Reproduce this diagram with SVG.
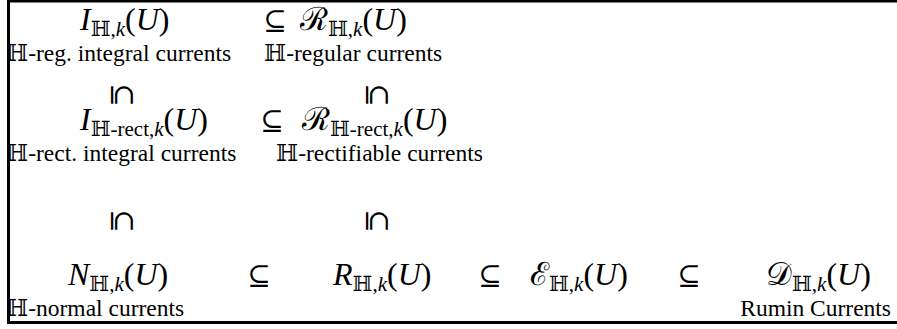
<svg xmlns="http://www.w3.org/2000/svg" width="897" height="329" viewBox="0 0 897 329">
<style>
.m{font-family:"Liberation Serif","DejaVu Serif",serif;font-style:italic;font-size:32px;fill:#000}
.up{font-style:normal}
.cal{font-family:"DejaVu Serif","Liberation Serif",serif;font-style:normal}
.sub{font-family:"Liberation Serif","DejaVu Serif",serif;font-size:21px}
.bb{font-family:"DejaVu Serif","DejaVu Sans",serif;font-style:normal;font-weight:normal}
.lab{font-family:"Liberation Serif","DejaVu Serif",serif;font-size:23.5px;fill:#000}
.rel{font-family:"DejaVu Serif",serif;font-size:28px;fill:#000}
</style>
<rect x="0" y="0" width="897" height="329" fill="#fff"/>
<g id="frame" stroke="#000" stroke-width="3" fill="none">
<path d="M897,1 H8.5 V322.5 H897"/>
</g>
<g id="n-ireg">
<text class="m" x="80" y="30">I<tspan class="sub" dy="6"><tspan class="bb">ℍ</tspan><tspan class="up">,</tspan>k</tspan><tspan class="up" dy="-6">(</tspan>U<tspan class="up">)</tspan></text>
<text class="lab" x="6" y="61"><tspan class="bb">ℍ</tspan>-reg. integral currents</text>
</g>
<g id="n-rreg">
<text class="m" x="300" y="30"><tspan class="cal">ℛ</tspan><tspan class="sub" dy="6"><tspan class="bb">ℍ</tspan><tspan class="up">,</tspan>k</tspan><tspan class="up" dy="-6">(</tspan>U<tspan class="up">)</tspan></text>
<text class="lab" x="264" y="61"><tspan class="bb">ℍ</tspan>-regular currents</text>
</g>
<g id="n-irect">
<text class="m" x="80" y="130">I<tspan class="sub up" dy="6"><tspan class="bb">ℍ</tspan>-rect,<tspan class="m" style="font-size:21px">k</tspan></tspan><tspan class="up" dy="-6">(</tspan>U<tspan class="up">)</tspan></text>
<text class="lab" x="6" y="161"><tspan class="bb">ℍ</tspan>-rect. integral currents</text>
</g>
<g id="n-rrect">
<text class="m" x="302" y="130"><tspan class="cal">ℛ</tspan><tspan class="sub up" dy="6"><tspan class="bb">ℍ</tspan>-rect,<tspan class="m" style="font-size:21px">k</tspan></tspan><tspan class="up" dy="-6">(</tspan>U<tspan class="up">)</tspan></text>
<text class="lab" x="276" y="161"><tspan class="bb">ℍ</tspan>-rectifiable currents</text>
</g>
<g id="n-normal">
<text class="m" x="68" y="285">N<tspan class="sub" dy="6"><tspan class="bb">ℍ</tspan><tspan class="up">,</tspan>k</tspan><tspan class="up" dy="-6">(</tspan>U<tspan class="up">)</tspan></text>
<text class="lab" x="6" y="316"><tspan class="bb">ℍ</tspan>-normal currents</text>
</g>
<g id="n-r">
<text class="m" x="333" y="285">R<tspan class="sub" dy="6"><tspan class="bb">ℍ</tspan><tspan class="up">,</tspan>k</tspan><tspan class="up" dy="-6">(</tspan>U<tspan class="up">)</tspan></text>
</g>
<g id="n-e">
<text class="m" x="530" y="285"><tspan class="cal">ℰ</tspan><tspan class="sub" dy="6"><tspan class="bb">ℍ</tspan><tspan class="up">,</tspan>k</tspan><tspan class="up" dy="-6">(</tspan>U<tspan class="up">)</tspan></text>
</g>
<g id="n-d">
<text class="m" x="766" y="285"><tspan class="cal">𝒟</tspan><tspan class="sub" dy="6"><tspan class="bb">ℍ</tspan><tspan class="up">,</tspan>k</tspan><tspan class="up" dy="-6">(</tspan>U<tspan class="up">)</tspan></text>
<text class="lab" x="891" y="316" text-anchor="end">Rumin Currents</text>
</g>
<g id="connectors">
<text class="rel" x="275" y="30" text-anchor="middle">⊆</text>
<text class="rel" x="272" y="130" text-anchor="middle">⊆</text>
<text class="rel" x="259" y="285" text-anchor="middle">⊆</text>
<text class="rel" x="490" y="285" text-anchor="middle">⊆</text>
<text class="rel" x="689" y="285" text-anchor="middle">⊆</text>
<text class="rel" transform="translate(122,95) rotate(90)" x="0" y="9" text-anchor="middle">⊆</text>
<text class="rel" transform="translate(377,95) rotate(90)" x="0" y="9" text-anchor="middle">⊆</text>
<text class="rel" transform="translate(122,221) rotate(90)" x="0" y="9" text-anchor="middle">⊆</text>
<text class="rel" transform="translate(377,221) rotate(90)" x="0" y="9" text-anchor="middle">⊆</text>
</g>
</svg>
